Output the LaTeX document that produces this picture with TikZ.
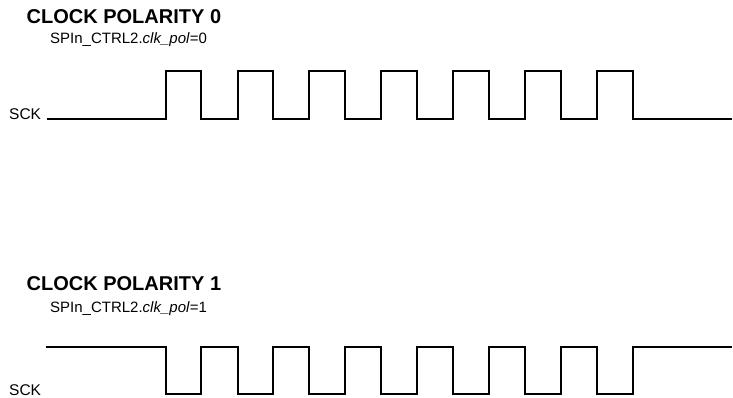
\documentclass[tikz,border=0pt]{standalone}
\usepackage{fontspec}
\setmainfont{Liberation Sans}
\begin{document}
\begin{tikzpicture}[x=1pt,y=-1pt,
  title/.style={anchor=base west,inner sep=0pt,font=\fontsize{20}{24}\selectfont\bfseries},
  subtitle/.style={anchor=base west,inner sep=0pt,font=\fontsize{15}{18}\selectfont},
  siglabel/.style={anchor=base west,inner sep=0pt,font=\fontsize{15.5}{18}\selectfont},
  wave/.style={line width=2pt,line join=miter,black}]
\useasboundingbox (0,0) rectangle (733,398);
% Polarity 0
\node[title] (t0) at (26.5,24) {CLOCK POLARITY 0};
\node[subtitle] (s0) at (50,43.5) {SPIn\_CTRL2.\textit{clk\_pol}=0};
\node[siglabel] (k0) at (9,120) {SCK};
\draw[wave] (46.5,119)
  foreach \k in {0,...,6} {
    -- ({165.7+71.85*\k},119) -- ({165.7+71.85*\k},71)
    -- ({201.4+71.85*\k},71) -- ({201.4+71.85*\k},119)
  } -- (732,119);
% Polarity 1
\node[title] (t1) at (26.5,290) {CLOCK POLARITY 1};
\node[subtitle] (s1) at (50,312.5) {SPIn\_CTRL2.\textit{clk\_pol}=1};
\node[siglabel] (k1) at (9,395) {SCK};
\draw[wave] (45.5,346.7)
  foreach \k in {0,...,6} {
    -- ({165.7+71.85*\k},346.7) -- ({165.7+71.85*\k},394)
    -- ({201.4+71.85*\k},394) -- ({201.4+71.85*\k},346.7)
  } -- (732,346.7);
\end{tikzpicture}
\end{document}
